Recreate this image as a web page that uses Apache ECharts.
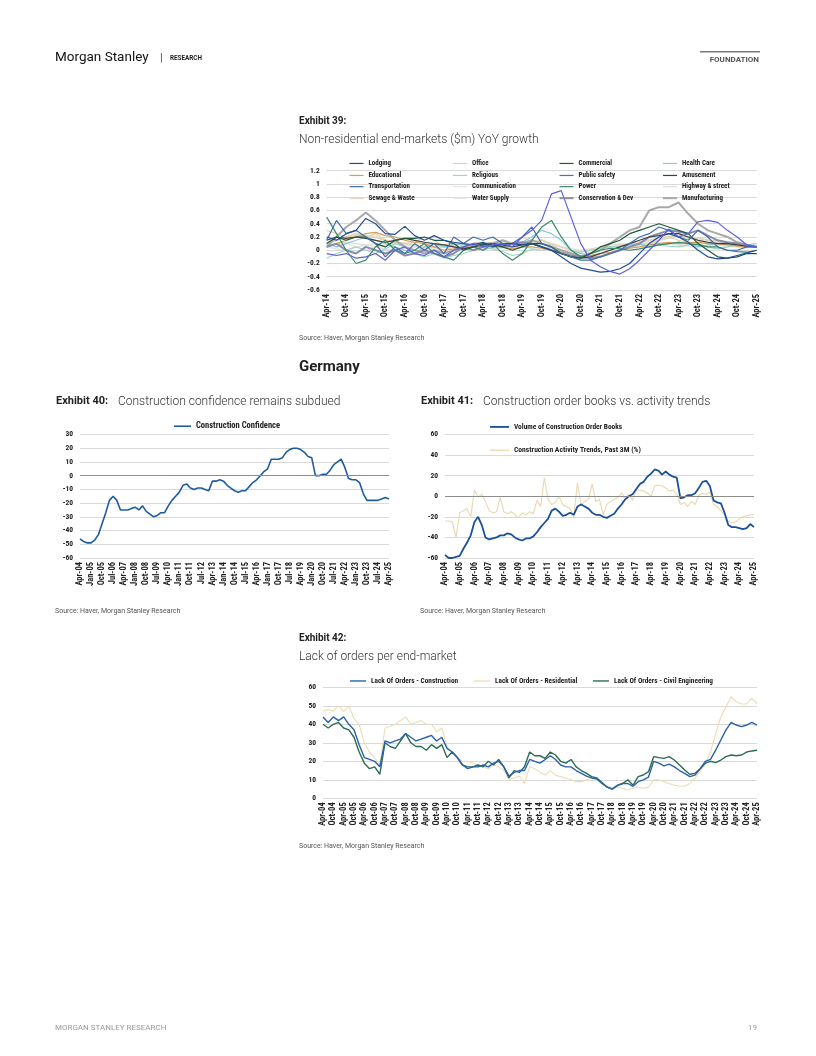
<!DOCTYPE html>
<html><head><meta charset="utf-8">
<script src="https://cdn.jsdelivr.net/npm/echarts/dist/echarts.min.js"></script>
<style>html,body{margin:0;padding:0;background:#fff}#page{width:816px;height:1056px}</style>
</head><body><div id="page"></div>
<script>
// ---------- categories ----------
function quarterLabels(y0, y1) {
  const m = ['Jan', 'Apr', 'Jul', 'Oct'], out = [];
  for (let y = y0; y <= y1; y++) for (let q = 0; q < 4; q++) {
    if (y === y0 && q < 1) continue;
    if (y === y1 && q > 1) continue;
    out.push(m[q] + '-' + String(y % 100).padStart(2, '0'));
  }
  return out;
}
const cats39 = quarterLabels(2014, 2025);   // Apr-14 .. Apr-25 (quarterly)
const cats04 = quarterLabels(2004, 2025);   // Apr-04 .. Apr-25 (quarterly)

// ---------- Exhibit 39 : Non-residential end-markets YoY growth ----------
const lodging = [0.2,0.15,0.25,0.3,0.48,0.4,0.25,0.24,0.36,0.22,0.15,0.22,0.15,0.12,0.1,0.08,0.12,0.05,0.1,0.1,0.08,0.1,0.05,0.0,-0.1,-0.2,-0.27,-0.3,-0.33,-0.32,-0.28,-0.2,-0.05,0.1,0.2,0.25,0.2,0.12,0.0,-0.1,-0.13,-0.12,-0.08,-0.04,0.0];
const office = [0.3,0.25,0.2,0.22,0.2,0.25,0.15,0.12,0.1,0.12,0.2,0.15,0.05,0.0,0.05,0.08,0.1,0.12,0.15,0.1,0.2,0.12,0.15,0.08,0.0,-0.05,-0.1,-0.1,-0.08,-0.05,0.0,0.05,0.08,0.1,0.15,0.2,0.15,0.12,0.1,0.12,0.15,0.12,0.1,0.08,0.05];
const commercial = [0.1,0.2,0.15,0.2,0.2,0.1,0.05,0.15,0.18,0.18,0.2,0.15,0.15,0.1,0.0,0.05,0.1,0.08,0.05,0.0,0.05,0.1,0.1,0.05,-0.05,-0.1,-0.12,-0.05,0.05,0.1,0.15,0.25,0.3,0.35,0.4,0.35,0.3,0.25,0.1,0.0,-0.1,-0.12,-0.1,-0.05,-0.05];
const healthCare = [0.1,0.05,0.1,0.15,0.2,0.15,0.1,0.05,0.0,-0.05,0.05,0.1,0.05,0.08,0.1,0.05,0.0,0.05,0.08,0.1,0.12,0.2,0.3,0.25,0.15,0.0,-0.05,-0.08,-0.05,0.0,0.05,0.08,0.1,0.05,0.08,0.1,0.12,0.1,0.05,0.08,0.1,0.12,0.1,0.08,0.1];
const educational = [0.05,0.1,0.15,0.2,0.25,0.27,0.22,0.2,0.15,0.12,0.1,0.05,0.0,0.02,0.05,0.05,0.08,0.05,0.05,0.02,0.05,0.05,0.03,0.0,-0.03,-0.05,-0.08,-0.08,-0.05,-0.03,0.0,0.03,0.05,0.08,0.1,0.12,0.1,0.12,0.12,0.1,0.1,0.08,0.06,0.05,0.05];
const religious = [-0.12,-0.05,0.0,0.05,0.0,-0.05,0.02,0.1,0.05,-0.05,-0.1,-0.05,-0.12,-0.08,-0.05,0.0,0.05,0.02,-0.02,-0.08,-0.05,0.02,0.0,0.05,-0.02,-0.05,-0.03,0.0,0.03,0.05,0.05,0.08,0.1,0.05,0.08,0.06,0.05,0.08,0.1,0.05,0.02,0.05,0.08,0.05,0.04];
const publicSafety = [-0.05,-0.08,-0.05,-0.12,-0.1,-0.05,-0.15,0.0,0.05,-0.05,-0.08,0.0,-0.1,0.0,0.05,0.1,0.05,0.08,0.1,0.05,0.2,0.3,0.45,0.85,0.9,0.5,0.1,-0.15,-0.25,-0.32,-0.36,-0.28,-0.15,0.0,0.15,0.32,0.2,0.25,0.43,0.45,0.42,0.3,0.2,0.08,0.05];
const amusement = [0.15,0.2,0.18,0.2,0.18,0.15,0.12,0.15,0.18,0.15,0.12,0.1,0.08,0.05,0.02,0.05,0.08,0.1,0.08,0.05,0.08,0.1,0.05,0.0,-0.05,-0.1,-0.12,-0.1,-0.05,0.0,0.05,0.1,0.15,0.2,0.22,0.25,0.25,0.2,0.15,0.12,0.1,0.1,0.08,0.06,0.05];
const transportation = [0.15,0.45,0.25,0.3,0.2,0.1,-0.1,0.05,-0.05,0.1,0.0,0.1,-0.05,0.2,0.1,0.2,0.15,0.2,0.1,0.1,0.2,0.35,0.1,0.05,-0.05,-0.1,-0.15,-0.15,-0.1,-0.05,0.0,0.1,0.2,0.25,0.35,0.3,0.2,0.15,0.3,0.2,0.05,0.0,0.0,0.05,0.05];
const communication = [0.05,0.08,0.1,0.05,0.0,0.05,0.08,0.1,0.05,0.0,0.05,0.02,0.0,0.05,0.08,0.05,0.1,0.05,0.02,0.05,0.08,0.1,0.05,0.0,-0.05,-0.05,0.0,0.02,0.05,0.08,0.1,0.05,0.08,0.1,0.12,0.1,0.08,0.1,0.12,0.1,0.08,0.05,0.06,0.05,0.05];
const power = [0.5,0.25,0.0,-0.2,-0.15,0.05,0.15,0.0,-0.05,0.0,0.1,-0.05,-0.1,-0.15,0.0,0.05,0.0,0.1,-0.05,-0.15,-0.05,0.15,0.35,0.45,0.2,0.0,-0.1,-0.05,0.0,0.03,0.02,0.0,0.02,0.05,0.08,0.1,0.12,0.1,0.08,0.05,0.05,0.0,-0.02,-0.03,0.0];
const highway = [0.08,0.1,0.12,0.1,0.08,0.1,0.12,0.1,0.08,0.06,0.05,0.05,0.04,0.05,0.06,0.08,0.08,0.1,0.1,0.12,0.12,0.1,0.1,0.08,0.05,0.02,0.0,0.02,0.04,0.05,0.06,0.08,0.1,0.12,0.15,0.18,0.2,0.18,0.15,0.12,0.1,0.08,0.08,0.06,0.05];
const sewage = [0.1,0.15,0.2,0.25,0.22,0.2,0.15,0.12,0.1,0.08,0.05,0.05,0.08,0.1,0.08,0.05,0.08,0.1,0.12,0.1,0.1,0.12,0.15,0.1,0.05,0.0,-0.02,0.0,0.03,0.05,0.08,0.1,0.12,0.15,0.18,0.2,0.22,0.2,0.18,0.15,0.12,0.1,0.1,0.08,0.06];
const waterSupply = [0.05,0.02,0.0,0.05,0.08,0.05,0.02,0.0,0.03,0.05,0.02,0.0,-0.02,0.0,0.03,0.05,0.03,0.02,0.05,0.08,0.05,0.03,0.05,0.02,0.0,-0.03,-0.05,-0.03,0.0,0.02,0.03,0.05,0.06,0.05,0.08,0.1,0.08,0.06,0.05,0.06,0.08,0.06,0.05,0.04,0.05];
const conservation = [0.05,0.1,0.0,-0.05,0.05,0.0,-0.05,0.0,-0.08,-0.05,0.0,-0.05,-0.1,-0.05,0.05,0.0,0.05,0.1,0.05,0.1,0.12,0.1,0.05,0.0,-0.05,-0.08,-0.1,-0.12,-0.1,-0.05,0.0,0.05,0.1,0.2,0.25,0.3,0.28,0.25,0.3,0.22,0.15,0.12,0.1,0.08,0.05];
const manufacturing = [0.05,0.2,0.35,0.45,0.57,0.45,0.3,0.15,0.05,0.0,-0.05,0.0,-0.05,0.0,0.05,0.1,0.1,0.1,0.15,0.1,0.1,0.15,0.1,0.05,0.0,-0.05,-0.1,-0.05,0.0,0.1,0.2,0.3,0.35,0.6,0.65,0.65,0.72,0.55,0.4,0.3,0.25,0.2,0.12,0.08,0.05];
const ticks39 = { min: -0.6, max: 1.2, step: 0.2 };

// ---------- Exhibit 40 : Construction confidence (Germany) ----------
const constructionConfidence = [
  -46,-48,-49,-49, -47,-43,-35,-27, -18,-15,-18,-25, -25,-25,-24,-23, -25,-22,-26,-28,
  -30,-29,-27,-27, -22,-18,-15,-12, -7,-6,-9,-10, -9,-9,-10,-11, -4,-4,-3,-4,
  -7,-9,-11,-12, -11,-11,-8,-5, -3,0,3,5, 12,12,12,13, 17,19,20,20,
  19,17,14,13, 0,0,1,1, 4,8,10,12, 6,-2,-3,-3, -5,-13,-18,-18,
  -18,-18,-17,-16, -17];
const ticks40 = { min: -60, max: 30, step: 10 };

// ---------- Exhibit 41 : Order books vs activity ----------
const orderBooks = [
  -57,-60,-60,-59, -58,-51,-45,-38, -25,-20,-28,-40, -42,-41,-40,-38, -38,-36,-37,-40,
  -42,-43,-41,-41, -39,-35,-30,-26, -22,-14,-12,-15, -19,-18,-16,-18, -10,-8,-10,-12,
  -16,-18,-18,-20, -21,-19,-17,-12, -8,-3,0,2, 7,12,14,19, 22,26,25,21,
  24,21,19,18, -2,-1,1,1, 3,8,14,15, 10,-4,-6,-7, -16,-28,-30,-30,
  -31,-32,-31,-27, -30];
const activityTrends = [
  -24,-24,-25,-40, -16,-14,-12,-20, 6,-1,2,-5, -14,-16,-15,-1, -15,-17,-15,-18,
  -21,-16,-18,-15, -17,-4,-10,18, -3,-8,-6,0, -8,-10,-12,-20, 13,-8,-5,-3,
  12,-5,-3,-18, -8,-5,-3,-1, 3,-2,2,-4, 6,6,5,3, 0,10,11,10,
  8,5,6,2, -8,-6,-10,-5, -8,1,3,2, 4,-8,-10,-14, -18,-24,-26,-25,
  -22,-20,-19,-18, -18];
const ticks41 = { min: -60, max: 60, step: 20 };

// ---------- Exhibit 42 : Lack of orders ----------
const lackConstruction = [
  44,41,44,42, 44,40,37,29, 22,21,20,17, 31,30,31,32, 35,33,31,32,
  33,34,31,33, 27,25,22,18, 16,17,17,18, 17,19,20,17, 12,14,15,15,
  21,20,19,21, 23,21,18,17, 17,15,13.5,12, 11,10.5,8,6, 5,7,8,8,
  6.5,9,10,11.5, 20,19,17.5,18.5, 17,15,13.5,11.7, 12.5,16,20,21, 26,31.5,37,41,
  39.6,38.7,39.6,41, 39.6];
const lackResidential = [
  47,48,47,50, 47,50,43,40, 30,25,22,18, 38,39,40,42, 44,40,41,42,
  40,40,36,38, 28,25,22,20, 20,19,18,17, 16,18,17,15, 10,11,12,8,
  17,16,14,12.6, 15,12.5,11.7,11, 10,9,9,10, 11,10,8,6.5, 5.5,6,5.4,4.5,
  5.4,6,5.4,6, 10,10,9,8, 7,6.5,6.5,8, 11,14.5,19,25, 35,44,49.5,55,
  52,51,51,54, 51];
const lackCivil = [
  40,38,40,41, 38,37,33,25, 19,16,17,13, 30,28,27,31, 35,30,28,28,
  26,29,27,29, 22,25,22,18, 17,17,18,17, 20,18,21,17, 11,15,14,17,
  25,23,23,21.6, 25,23.4,20,19, 21,17,15,13.5, 11.7,11,8.5,6, 5,7,8,10,
  7,11.7,12.6,14.4, 22.5,22,21.6,22.5, 20.7,18,15.3,13, 13.5,16,19,20, 19.3,20.7,22.5,23.4,
  23,23.4,25,25.6, 26];
const ticks42 = { min: 0, max: 60, step: 10 };

// ---------- styling / layout ----------
const NARROW = '"Liberation Sans Narrow","Arial Narrow","Roboto Condensed","DejaVu Sans Condensed",sans-serif';
const SANS = 'Roboto,"Liberation Sans",Arial,sans-serif';
const GRID_C = '#d9d9d9', ZERO_C = '#8c8c8c';

const grids = [
  { left: 326.7, top: 170.7, width: 430, height: 119.3 },
  { left: 80, top: 434.5, width: 309, height: 123.5 },
  { left: 445, top: 434.5, width: 309, height: 123.5 },
  { left: 323, top: 687.3, width: 434, height: 111 }
];

function yAx(gi, t, dec, fs) {
  return {
    gridIndex: gi, type: 'value', min: t.min, max: t.max, interval: t.step,
    axisLine: { show: false }, axisTick: { show: false },
    splitLine: { show: true, lineStyle: { color: GRID_C, width: 1 } },
    axisLabel: { fontSize: fs, fontWeight: 'bold', fontFamily: NARROW, color: '#222', margin: 7,
      formatter: v => String(+(+v).toFixed(dec || 0)) }
  };
}
function xAx(gi, cats, every, fs) {
  return {
    gridIndex: gi, type: 'category', data: cats, boundaryGap: false,
    axisLine: { show: false }, axisTick: { show: false }, splitLine: { show: false },
    axisLabel: { rotate: 90, interval: every, fontSize: fs, fontWeight: 'bold', fontFamily: NARROW, color: '#222', margin: 4 }
  };
}
const seriesColor = {};
function ln(name, data, gi, color, width) {
  seriesColor[name] = color;
  return { type: 'line', name, data, xAxisIndex: gi, yAxisIndex: gi, symbol: 'none', showSymbol: false,
    color, lineStyle: { color, width }, itemStyle: { color }, silent: true, animation: false };
}
const zeroLine = { silent: true, symbol: 'none', animation: false, label: { show: false },
  lineStyle: { color: ZERO_C, width: 1, type: 'solid' }, data: [{ yAxis: 0 }] };
function lg(name, left, cy, w, fs, lw) {
  return { data: [{ name, icon: 'rect', itemStyle: { color: seriesColor[name] } }], left, top: cy - fs * 0.62, padding: 0,
    itemWidth: w, itemHeight: lw || 1.4, selectedMode: false,
    textStyle: { fontSize: fs, fontWeight: 'bold', fontFamily: NARROW, color: '#222' } };
}
function txt(x, y, text, font, fill, align) {
  return { type: 'text', x, y, silent: true,
    style: { text, font, fill, align: align || 'left', textAlign: align || 'left', verticalAlign: 'middle', textVerticalAlign: 'middle' } };
}

// ex39 series styles (draw order: light first)
const s39 = [
  ['Communication', communication, '#efe2db', 1.2],
  ['Highway & street', highway, '#dcdcdc', 1.2],
  ['Water Supply', waterSupply, '#e4e4e4', 1.5],
  ['Sewage & Waste', sewage, '#e2d7c2', 2],
  ['Office', office, '#e6d2ab', 1.2],
  ['Religious', religious, '#9dd8c1', 1.2],
  ['Health Care', healthCare, '#8ccad9', 1.2],
  ['Educational', educational, '#d19f5b', 1.2],
  ['Manufacturing', manufacturing, '#a8a8a8', 2],
  ['Conservation & Dev', conservation, '#8b8bad', 2],
  ['Amusement', amusement, '#3d3d3d', 1.2],
  ['Power', power, '#3b8b6b', 1.2],
  ['Commercial', commercial, '#1d5a3c', 1.2],
  ['Transportation', transportation, '#3e6fa9', 1.2],
  ['Lodging', lodging, '#1f4e96', 1.2],
  ['Public safety', publicSafety, '#5b5fe0', 1.2]
];
const lineW39 = {};
s39.forEach(s => { lineW39[s[0]] = s[3]; });
const legend39Names = [
  ['Lodging', 'Office', 'Commercial', 'Health Care'],
  ['Educational', 'Religious', 'Public safety', 'Amusement'],
  ['Transportation', 'Communication', 'Power', 'Highway & street'],
  ['Sewage & Waste', 'Water Supply', 'Conservation & Dev', 'Manufacturing']
];
const legCols = [349.5, 453, 559.5, 663], legRows = [164.3, 176.3, 187.5, 199];

const series = s39.map(s => ln(s[0], s[1], 0, s[2], s[3]));
const sConf = ln('Construction Confidence', constructionConfidence, 1, '#1f5c9e', 1.6);
sConf.markLine = zeroLine;
series.push(sConf);
const sAct = ln('Construction Activity Trends, Past 3M (%)', activityTrends, 2, '#e9d8ad', 1.1);
sAct.markLine = zeroLine;
series.push(sAct);
series.push(ln('Volume of Construction Order Books', orderBooks, 2, '#1b5197', 1.8));
series.push(ln('Lack Of Orders - Residential', lackResidential, 3, '#eedbb3', 1.1));
series.push(ln('Lack Of Orders - Civil Engineering', lackCivil, 3, '#2c6c53', 1.4));
series.push(ln('Lack Of Orders - Construction', lackConstruction, 3, '#2a62a8', 1.4));

const legends = [];
legend39Names.forEach((row, r) => row.forEach((n, c) =>
  legends.push(lg(n, legCols[c], legRows[r], 14, 7, Math.max(1.2, lineW39[n])))));
legends.push(lg('Construction Confidence', 174, 427, 17, 8.5, 1.6));
legends.push(lg('Volume of Construction Order Books', 490, 428, 19, 7.4, 1.8));
legends.push(lg('Construction Activity Trends, Past 3M (%)', 490, 451, 19, 7.6, 1.2));
legends.push(lg('Lack Of Orders - Construction', 350, 682, 16, 7.3, 1.4));
legends.push(lg('Lack Of Orders - Residential', 474, 682, 16, 7.3, 1.2));
legends.push(lg('Lack Of Orders - Civil Engineering', 593, 682, 16, 7.3, 1.4));

const SRC = 'Source: Haver, Morgan Stanley Research';
const graphics = [
  txt(55, 58, 'Morgan Stanley', '13.5px ' + SANS, '#111'),
  txt(160, 58, '|', '11px ' + SANS, '#444'),
  txt(170, 58.5, 'RESEARCH', 'bold 6.3px ' + SANS, '#222'),
  { type: 'rect', silent: true, shape: { x: 700, y: 51, width: 60, height: 1.6 }, style: { fill: '#7a7a7a' } },
  txt(759, 59.5, 'FOUNDATION', 'bold 8px ' + SANS, '#555', 'right'),
  txt(299, 121.5, 'Exhibit 39:', 'bold 10px ' + SANS, '#222'),
  txt(299, 140, 'Non-residential end-markets ($m) YoY growth', '300 12px ' + SANS, '#333'),
  txt(299, 338.5, SRC, '7px ' + SANS, '#555'),
  txt(299, 367, 'Germany', 'bold 15px ' + SANS, '#222'),
  txt(56, 401.5, 'Exhibit 40:', 'bold 11px ' + SANS, '#222'),
  txt(118, 401.5, 'Construction confidence remains subdued', '300 12px ' + SANS, '#333'),
  txt(55, 611, SRC, '7px ' + SANS, '#555'),
  txt(421, 401.5, 'Exhibit 41:', 'bold 11px ' + SANS, '#222'),
  txt(483, 401.5, 'Construction order books vs. activity trends', '300 12px ' + SANS, '#333'),
  txt(420, 611, SRC, '7px ' + SANS, '#555'),
  txt(299, 638.5, 'Exhibit 42:', 'bold 10px ' + SANS, '#222'),
  txt(299, 657, 'Lack of orders per end-market', '300 12px ' + SANS, '#333'),
  txt(299, 846.5, SRC, '7px ' + SANS, '#555'),
  txt(55, 1028, 'MORGAN STANLEY RESEARCH', '8px ' + SANS, '#9b9b9b'),
  txt(757, 1028, '19', '8px ' + SANS, '#9b9b9b', 'right')
];

const chart = echarts.init(document.getElementById('page'), null, { width: 816, height: 1056, renderer: 'canvas' });
chart.setOption({
  backgroundColor: '#fff',
  animation: false,
  grid: grids,
  xAxis: [xAx(0, cats39, 1, 8.5), xAx(1, cats04, 2, 8.5), xAx(2, cats04, 3, 8.5), xAx(3, cats04, 1, 8.5)],
  yAxis: [yAx(0, ticks39, 1, 7.5), yAx(1, ticks40, 0, 7.5), yAx(2, ticks41, 0, 7.5), yAx(3, ticks42, 0, 7.5)],
  legend: legends,
  series,
  graphic: graphics
});
</script>
</body></html>
